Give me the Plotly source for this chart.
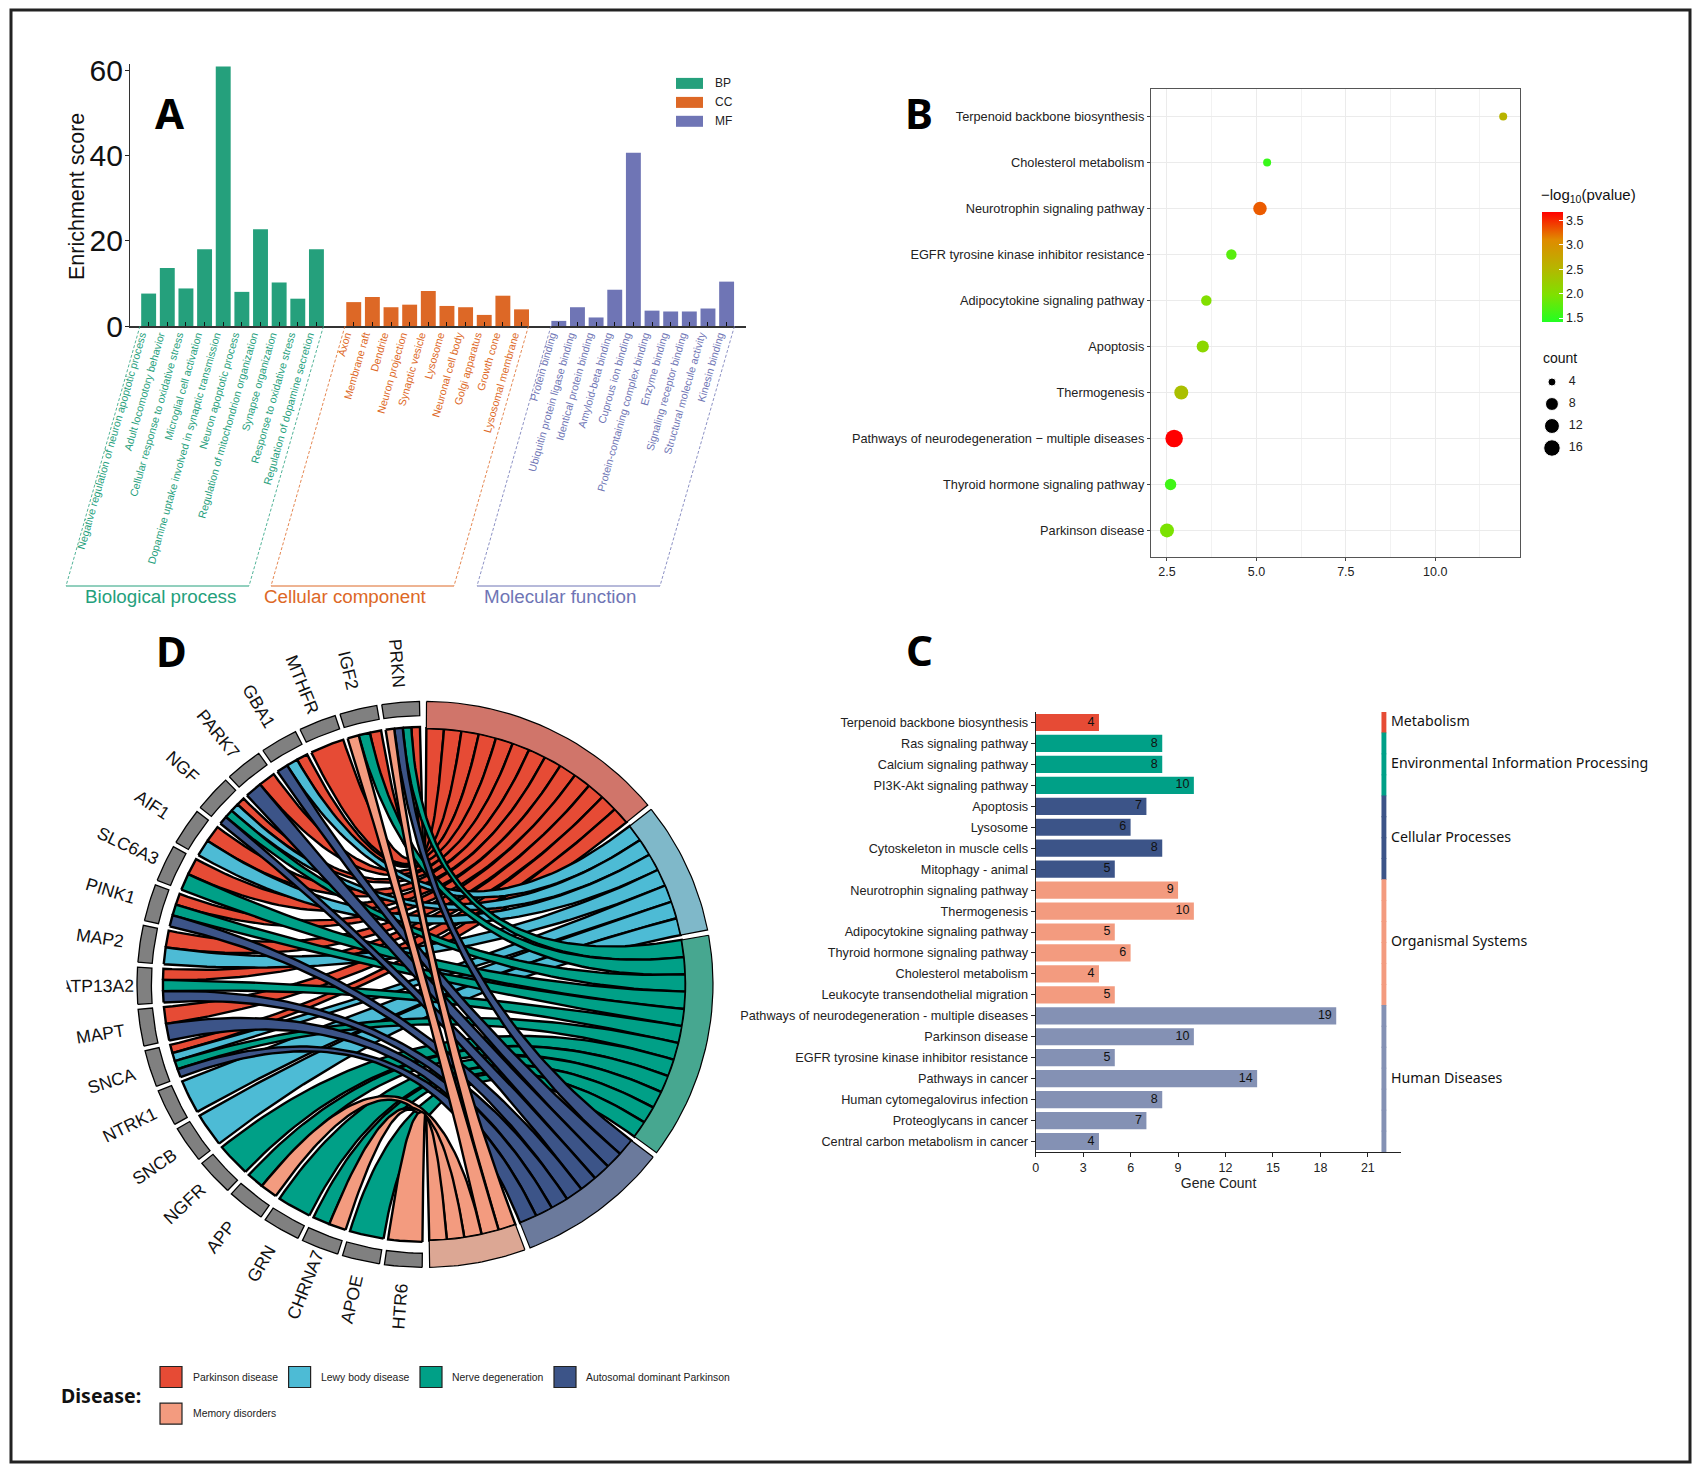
import math
import plotly.graph_objects as go

W, H = 1700, 1472

# ---------- Panel A data ----------
bp_terms = ["Negative regulation of neuron apoptotic process", "Adult locomotory behavior",
            "Cellular response to oxidative stress", "Microglial cell activation",
            "Dopamine uptake involved in synaptic transmission", "Neuron apoptotic process",
            "Regulation of mitochondrion organization", "Synapse organization",
            "Response to oxidative stress", "Regulation of dopamine secretion"]
bp_values = [7.6, 13.6, 8.8, 18.0, 60.8, 8, 22.7, 10.2, 6.4, 18.0]
cc_terms = ["Axon", "Membrane raft", "Dendrite", "Neuron projection", "Synaptic vesicle", "Lysosome",
            "Neuronal cell body", "Golgi apparatus", "Growth cone", "Lysosomal membrane"]
cc_values = [5.6, 6.8, 4.4, 5, 8.2, 4.7, 4.4, 2.6, 7.1, 3.9]
mf_terms = ["Protein binding", "Ubiquitin protein ligase binding", "Identical protein binding",
            "Amyloid-beta binding", "Cuprous ion binding", "Protein-containing complex binding",
            "Enzyme binding", "Signaling receptor binding", "Structural molecule activity", "Kinesin binding"]
mf_values = [1.2, 4.4, 2, 8.5, 40.6, 3.6, 3.4, 3.4, 4.1, 10.4]
a_colors = {"BP": "#25a07c", "CC": "#dd6826", "MF": "#6f75b5"}

# ---------- Panel B data ----------
b_terms = ["Parkinson disease", "Thyroid hormone signaling pathway",
           "Pathways of neurodegeneration \u2212 multiple diseases", "Thermogenesis", "Apoptosis",
           "Adipocytokine signaling pathway", "EGFR tyrosine kinase inhibitor resistance",
           "Neurotrophin signaling pathway", "Cholesterol metabolism", "Terpenoid backbone biosynthesis"]
b_ratio = [2.5, 2.6, 2.7, 2.9, 3.5, 3.6, 4.3, 5.1, 5.3, 11.9]
b_count = [10, 6, 19, 10, 7, 5, 5, 9, 4, 4]
b_logp = [1.95, 1.6, 3.67, 2.4, 2.1, 2.0, 1.75, 3.3, 1.55, 2.55]
b_legend_counts = [4, 8, 12, 16]

# ---------- Panel C data ----------
c_terms = ["Terpenoid backbone biosynthesis", "Ras signaling pathway", "Calcium signaling pathway",
           "PI3K-Akt signaling pathway", "Apoptosis", "Lysosome", "Cytoskeleton in muscle cells",
           "Mitophagy - animal", "Neurotrophin signaling pathway", "Thermogenesis",
           "Adipocytokine signaling pathway", "Thyroid hormone signaling pathway",
           "Cholesterol metabolism", "Leukocyte transendothelial migration",
           "Pathways of neurodegeneration - multiple diseases", "Parkinson disease",
           "EGFR tyrosine kinase inhibitor resistance", "Pathways in cancer",
           "Human cytomegalovirus infection", "Proteoglycans in cancer", "Central carbon metabolism in cancer"]
c_counts = [4, 8, 8, 10, 7, 6, 8, 5, 9, 10, 5, 6, 4, 5, 19, 10, 5, 14, 8, 7, 4]
c_groups = ["Metabolism", "Environmental Information Processing", "Cellular Processes",
            "Organismal Systems", "Human Diseases"]
c_group_sizes = [1, 3, 4, 6, 7]
c_group_colors = ["#E64B35", "#00A087", "#3C5488", "#F39B7F", "#8491B4"]

# ---------- Panel D data ----------
genes = ["PRKN", "IGF2", "MTHFR", "GBA1", "PARK7", "NGF", "AIF1", "SLC6A3", "PINK1", "MAP2", "ATP13A2",
         "MAPT", "SNCA", "NTRK1", "SNCB", "NGFR", "APP", "GRN", "CHRNA7", "APOE", "HTR6"]
gene_links = ["PNAM", "PNM", "P", "PLA", "PA", "PLNA", "PL", "PN", "PNA", "PL", "PNA",
              "PA", "PLNA", "L", "L", "N", "NM", "N", "NM", "N", "M"]
disease_keys = ["P", "L", "N", "A", "M"]
disease_names = ["Parkinson disease", "Lewy body disease", "Nerve degeneration",
                 "Autosomal dominant Parkinson", "Memory disorders"]
disease_colors = ["#E64B35", "#4DBBD5", "#00A087", "#3C5488", "#F39B7F"]
disease_ring = ["#d0756a", "#7fb8c9", "#47a790", "#6b7a9c", "#dca794"]


def px(x, y):
    return x / W, 1 - y / H


def xdom(a, b):
    return [a / W, b / W]


def ydom(top, bottom):
    return [1 - bottom / H, 1 - top / H]


def dot_size(c):
    return 8 + 9.5 * math.sqrt((c - 4) / 15)


fig = go.Figure()
shapes, annotations = [], []


def note(x, y, text, size, color="#111", font="Liberation Sans", xa="center", ya="middle", angle=0):
    px_x, px_y = px(x, y)
    annotations.append(dict(x=px_x, y=px_y, xref="paper", yref="paper", text=text, showarrow=False,
                            font=dict(size=size, color=color, family=font), xanchor=xa, yanchor=ya,
                            textangle=angle))


def seg(x0, y0, x1, y1, color, dash="solid", width=1):
    a, b = px(x0, y0), px(x1, y1)
    shapes.append(dict(type="line", xref="paper", yref="paper", x0=a[0], y0=a[1], x1=b[0], y1=b[1],
                       line=dict(color=color, width=width, dash=dash)))


def box(x0, y0, x1, y1, fill, line="#222", width=1):
    a, b = px(x0, y0), px(x1, y1)
    shapes.append(dict(type="rect", xref="paper", yref="paper", x0=a[0], y0=a[1], x1=b[0], y1=b[1],
                       fillcolor=fill, line=dict(color=line, width=width)))


# frame
box(11, 10, 1690, 1462, "rgba(0,0,0,0)", "#222222", 3)

# letters
for letter, lx, ly in [("A", 170, 112), ("B", 919, 112), ("C", 920, 649), ("D", 171, 650)]:
    note(lx, ly, "<b>" + letter + "</b>", 42, "#000", "Noto Sans")

# ---------- Panel A ----------
a_groups = [("BP", bp_terms, bp_values, list(range(0, 10))),
            ("CC", cc_terms, cc_values, list(range(11, 21))),
            ("MF", mf_terms, mf_values, list(range(22, 32)))]
tickvals, ticktext = [], []
for key, terms, vals, xs in a_groups:
    fig.add_trace(go.Bar(x=xs, y=vals, name=key, marker=dict(color=a_colors[key], line=dict(width=0)),
                         width=0.8, xaxis="x", yaxis="y"))
    tickvals += xs
    ticktext += ['<span style="color:%s">%s</span>' % (a_colors[key], t) for t in terms]
fig.add_trace(go.Scatter(x=tickvals, y=[0] * len(tickvals), mode="none", xaxis="x6", yaxis="y", hoverinfo="skip"))
note(77, 197, "Enrichment score", 21.5, "#111", angle=-90)

# ---------- Panel B ----------
fig.add_trace(go.Scatter(
    x=b_ratio, y=b_terms, mode="markers", xaxis="x2", yaxis="y2",
    marker=dict(size=[dot_size(c) for c in b_count], sizemode="diameter", color=b_logp, cmin=1.42, cmax=3.67,
                opacity=1,
                colorscale=[[0, "#22ff22"], [0.25, "#80e000"], [0.5, "#b8b400"], [0.75, "#e08a00"], [1, "#ff0000"]],
                line=dict(width=0),
                colorbar=dict(x=1542 / W, xanchor="left", y=1 - 322 / H, yanchor="bottom", len=109.5,
                              lenmode="pixels", thickness=21, thicknessmode="pixels", outlinewidth=0,
                              xpad=0, ypad=0, tickvals=[1.5, 2.0, 2.5, 3.0, 3.5], ticks="inside",
                              ticklen=4, tickcolor="white", tickformat=".1f",
                              tickfont=dict(size=12.5, family="Liberation Sans", color="#222")))))
fig.add_trace(go.Scatter(x=[0.244] * 4, y=b_legend_counts, mode="markers", xaxis="x5", yaxis="y5",
                         marker=dict(size=[dot_size(c) for c in b_legend_counts], sizemode="diameter",
                                     color="black", opacity=1)))
fig.add_trace(go.Scatter(x=[0.43] * 4, y=b_legend_counts, mode="text", xaxis="x5", yaxis="y5",
                         text=[str(v) for v in b_legend_counts], textposition="middle right",
                         textfont=dict(size=12.5, family="Liberation Sans", color="#222")))
note(1539, 195, "\u2212log<sub>10</sub>(pvalue)", 15, "#111", xa="left")
note(1541, 358, "count", 14, "#111", xa="left")

# ---------- Panel C ----------
row_colors = []
for g, n, col in zip(c_groups, c_group_sizes, c_group_colors):
    row_colors += [col] * n
fig.add_trace(go.Bar(y=c_terms, x=c_counts, orientation="h", xaxis="x3", yaxis="y3", width=0.82,
                     marker=dict(color=row_colors, line=dict(width=0))))
fig.add_trace(go.Scatter(y=c_terms, x=[c - 0.28 for c in c_counts], mode="text", xaxis="x3", yaxis="y3",
                         text=[str(v) for v in c_counts], textposition="middle left",
                         textfont=dict(size=12.5, family="Liberation Sans", color="#111")))
fig.add_trace(go.Bar(y=c_terms, x=[0.31] * len(c_terms), base=[21.86] * len(c_terms), orientation="h",
                     xaxis="x3", yaxis="y3", width=1.04, marker=dict(color=row_colors, line=dict(width=0))))
start = 0
for g, n in zip(c_groups, c_group_sizes):
    annotations.append(dict(x=22.35, y=start + (n - 1) / 2, xref="x3", yref="y3", text=g, showarrow=False,
                            xanchor="left", yanchor="middle", yshift=1.5,
                            font=dict(size=14.2, family="Noto Sans", color="#111")))
    start += n

# ---------- Panel D ----------
RG, RT = 0.91, 0.905
U, GT = 3.875, 1.1
GW, GG = 7.54, 1.0
D_RX, D_RY = 288.0, 283.0


def pt(theta, r):
    t = math.radians(theta)
    return r * math.sin(t), r * math.cos(t)


def arc(a, b, r, n=24):
    return [pt(a + (b - a) * i / n, r) for i in range(n + 1)]


def bez(p0, p2, n=60):
    out = []
    for i in range(n + 1):
        t = i / n
        out.append(((1 - t) ** 2 * p0[0] + t ** 2 * p2[0], (1 - t) ** 2 * p0[1] + t ** 2 * p2[1]))
    return out


def poly(points, fill, width, line="black"):
    xs = [p[0] for p in points] + [points[0][0]]
    ys = [p[1] for p in points] + [points[0][1]]
    fig.add_trace(go.Scatter(x=xs, y=ys, mode="lines", fill="toself", fillcolor=fill, xaxis="x4", yaxis="y4",
                             line=dict(color=line, width=width), hoverinfo="skip"))


term_span = {}
cur = 0.3
for k in disease_keys:
    n = sum(k in s for s in gene_links)
    term_span[k] = (cur, cur + n * U, n)
    cur += n * U + GT

gene_span = []
for i in range(len(genes)):
    hi = 358.9 - i * (GW + GG)
    gene_span.append((hi - GW, hi))

gene_side, term_side = {}, {}
for i, s in enumerate(gene_links):
    lo, hi = gene_span[i]
    w = (hi - lo) / len(s)
    for j, k in enumerate(s):
        gene_side[(i, k)] = (hi - (j + 1) * w, hi - j * w)
for k in disease_keys:
    a, b, n = term_span[k]
    w = (b - a) / n
    j = 0
    for i, s in enumerate(gene_links):
        if k in s:
            term_side[(i, k)] = (a + j * w, a + (j + 1) * w)
            j += 1

for k, col in zip(disease_keys, disease_colors):
    for i, s in enumerate(gene_links):
        if k not in s:
            continue
        a0, a1 = gene_side[(i, k)]
        b0, b1 = term_side[(i, k)]
        path = arc(a0, a1, RG, 6) + bez(pt(a1, RG), pt(b0, RT)) + arc(b0, b1, RT, 6) + bez(pt(b1, RT), pt(a0, RG))
        poly(path, col, 2.4)

for k, col in zip(disease_keys, disease_ring):
    a, b, _ = term_span[k]
    poly(arc(a, b, 1.0) + arc(b, a, 0.905), col, 1.2)

for (lo, hi), g in zip(gene_span, genes):
    poly(arc(lo, hi, 1.0, 8) + arc(hi, lo, 0.95, 8), "#808080", 1.3)
    mid = (lo + hi) / 2
    gx, gy = pt(mid, 1.14)
    annotations.append(dict(x=gx, y=gy, xref="x4", yref="y4", text=g, showarrow=False, textangle=mid - 270,
                            xanchor="center", yanchor="middle",
                            font=dict(size=17.6, family="Liberation Sans", color="#111")))

# the reference cuts the left edge of the ATP13A2 label
ax, ay = px(67, 985)
annotations.append(dict(x=ax, y=ay, xref="paper", yref="paper", text="\u00a0", showarrow=False, xanchor="right",
                        yanchor="middle", width=18, height=34, bgcolor="white", font=dict(size=10)))

# disease legend
note(59, 1395, "<b>Disease:</b>", 19.5, "#111", "Noto Sans", xa="left")
leg = [(160, 1377, 191), (288.6, 1377, 319), (420, 1377, 450), (554, 1377, 584), (160, 1413.7, 191)]
for (lx, ly, tx), name, col in zip(leg, disease_names, disease_colors):
    box(lx, ly - 10.5, lx + 22, ly + 10.5, col, "#222", 1.2)
    note(tx, ly, name, 10.4, "#222", xa="left")

# ---------- Panel A decoration ----------
brackets = [("Biological process", 140, 323.5, 66, 249, 160, a_colors["BP"]),
            ("Cellular component", 345, 528.5, 271, 454, 345, a_colors["CC"]),
            ("Molecular function", 551, 734.5, 477, 660, 560, a_colors["MF"])]
for label, t0, t1, b0, b1, lx, col in brackets:
    seg(t0, 326, b0, 586, col, "3px,2px", 0.8)
    seg(t1, 326, b1, 586, col, "3px,2px", 0.8)
    seg(b0, 586, b1, 586, col)
    note(lx, 596, label, 18.8, col, "Liberation Sans")
for key, y in [("BP", 83.4), ("CC", 102.4), ("MF", 121.3)]:
    box(676, y - 5.5, 703, y + 5.5, a_colors[key], "rgba(0,0,0,0)", 0)
    note(713, y, key, 12, "#222", xa="left")

base_font = dict(family="Liberation Sans", color="#222")
layout = dict(
    width=W, height=H, margin=dict(l=0, r=0, t=0, b=0, pad=0, autoexpand=False), showlegend=False, barmode="overlay",
    paper_bgcolor="white", plot_bgcolor="rgba(0,0,0,0)", font=dict(family="Liberation Sans"),
    shapes=shapes, annotations=annotations,
    # A
    xaxis=dict(domain=xdom(130, 746), range=[-1, 32.04], tickvals=tickvals, showticklabels=False,
               ticks="inside", ticklen=4, tickcolor="#111",
               showline=True, linecolor="#333", linewidth=2, showgrid=False, zeroline=False, anchor="y"),
    xaxis6=dict(domain=xdom(130, 746), range=[-0.6, 32.44], tickvals=tickvals, ticktext=ticktext, tickangle=-74,
                tickfont=dict(size=10.6, family="Liberation Sans"), ticks="", showline=False, showgrid=False,
                zeroline=False, anchor="y", overlaying="x", side="bottom"),
    yaxis=dict(domain=ydom(63.6, 326), range=[0, 61.5], tickvals=[0, 20, 40, 60], ticks="outside", ticklen=4,
               tickcolor="#222", showline=True, linecolor="#333", linewidth=1.2, showgrid=False, zeroline=False,
               ticklabelstandoff=-4, tickfont=dict(size=30, family="Liberation Sans", color="#111"), anchor="x"),
    # B
    xaxis2=dict(domain=xdom(1151, 1520), range=[2.053, 12.37], tick0=2.5, dtick=2.5, tickformat=".1f",
                ticks="outside", ticklen=3, tickcolor="#444", gridcolor="#ebebeb", gridwidth=1.2, zeroline=False,
                minor=dict(tick0=1.25, dtick=1.25, showgrid=True, gridcolor="#f2f2f2", gridwidth=0.8),
                showline=True, mirror=True, linecolor="#555", linewidth=1.3,
                tickfont=dict(size=12.5, **base_font), anchor="y2"),
    yaxis2=dict(domain=ydom(89, 557), type="category", categoryorder="array", categoryarray=b_terms,
                range=[-0.578, 9.6], ticks="outside", ticklen=3, tickcolor="#444", gridcolor="#ebebeb",
                gridwidth=1.2, zeroline=False, showline=True, mirror=True, linecolor="#555", linewidth=1.3,
                tickfont=dict(size=12.75, **base_font), anchor="x2"),
    # C
    xaxis3=dict(domain=xdom(1035.7, 1401.4), range=[0, 23.12], tickvals=[0, 3, 6, 9, 12, 15, 18, 21],
                ticks="outside", ticklen=4, tickcolor="#222", showline=True, linecolor="#222", linewidth=1.2,
                showgrid=False, zeroline=False, tickfont=dict(size=12.5, **base_font), anchor="y3",
                title=dict(text="Gene Count", font=dict(size=14, **base_font), standoff=4)),
    yaxis3=dict(domain=ydom(712, 1152), type="category", categoryorder="array", categoryarray=c_terms,
                range=[20.5, -0.5], ticks="outside", ticklen=4, tickcolor="#222", showline=True, linecolor="#222",
                linewidth=1.2, showgrid=False, zeroline=False, tickfont=dict(size=12.7, **base_font), anchor="x3"),
    # D
    xaxis4=dict(domain=xdom(40, 810), range=[(40 - 425) / D_RX, (810 - 425) / D_RX], visible=False, anchor="y4"),
    yaxis4=dict(domain=ydom(640, 1330), range=[(984.4 - 1330) / D_RY, (984.4 - 640) / D_RY], visible=False, anchor="x4"),
    # count legend
    xaxis5=dict(domain=xdom(1530, 1620), range=[0, 1], visible=False, anchor="y5"),
    yaxis5=dict(domain=ydom(370, 460), range=[18.18, 1.82], visible=False, anchor="x5"),
)
fig.update_layout(**layout)
fig.write_html("out.html", config=dict(displayModeBar=False),
               post_script="document.body.style.margin='0';document.body.style.overflow='hidden';")
